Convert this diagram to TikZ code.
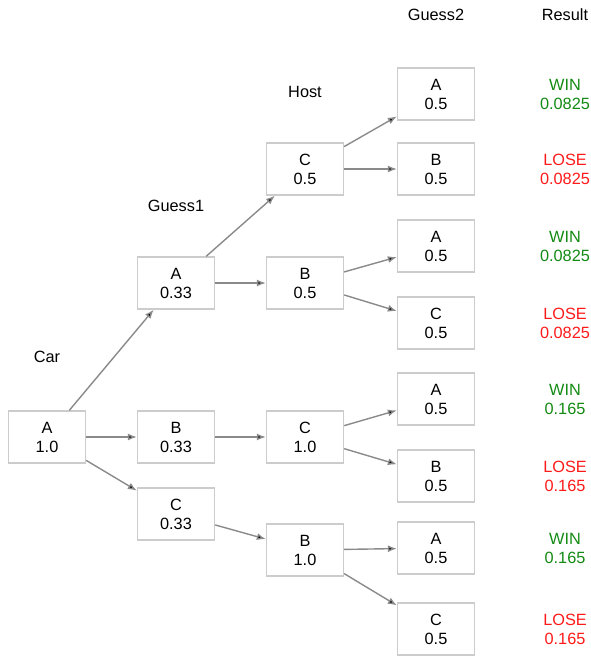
\documentclass[tikz,border=0pt]{standalone}
\usepackage{fontspec}
\setmainfont{Liberation Sans}
\usetikzlibrary{positioning, arrows.meta}

\definecolor{boxgray}{HTML}{CCCCCC}
\definecolor{edgegray}{HTML}{8A8A8A}
\definecolor{wingreen}{HTML}{138A13}
\definecolor{losered}{HTML}{FF1A1A}

\begin{document}
\begin{tikzpicture}[x=1pt, y=-1pt, on grid, node distance=76pt and 129pt,
        font=\fontsize{16.3}{19}\selectfont]
                \tikzset{
                    choice/.style={draw=boxgray, line width=1.3pt, fill=white, minimum width=77pt, minimum height=52pt, inner sep=0pt, align=center},
                    win/.style={text=wingreen, align=center, inner xsep=0pt},
                    lose/.style={text=losered, align=center, inner xsep=0pt},
                    header/.style={align=center}
                }
                \useasboundingbox (0,0) rectangle (590,658);

                % CAR
                \node[choice] (car) at (47,437) {A\\1.0};

                % GUESS1
                \node[choice] (g1a) [above right=154pt and 129pt of car] {A\\0.33};
                \node[choice] (g1b) [right=of car] {B\\0.33};
                \node[choice] (g1c) [below right=77pt and 129pt of car] {C\\0.33};

                % HOST
                \node[choice] (hc1) [above right=114pt and 129pt of g1a] {C\\0.5};
                \node[choice] (hb1) [right=of g1a] {B\\0.5};
                \node[choice] (hc2) [right=of g1b] {C\\1.0};
                \node[choice] (hb2) [below right=36pt and 129pt of g1c] {B\\1.0};

                % GUESS2
                \node[choice] (ga1) [above right=75pt and 131pt of hc1] {A\\0.5};
                \node[choice] (gb1) [right=131pt of hc1] {B\\0.5};
                \node[choice] (ga2) [above right=37pt and 131pt of hb1] {A\\0.5};
                \node[choice] (gc2) [below right=40pt and 131pt of hb1] {C\\0.5};
                \node[choice] (ga3) [above right=38pt and 131pt of hc2] {A\\0.5};
                \node[choice] (gb3) [below right=39pt and 131pt of hc2] {B\\0.5};
                \node[choice] (ga4) [above right=2pt and 131pt of hb2] {A\\0.5};
                \node[choice] (gc4) [below right=79pt and 131pt of hb2] {C\\0.5};

                % RESULTS
                \node[win] (r1) [right=129pt of ga1] {WIN\\0.0825};
                \node[lose] (r2) [right=129pt of gb1] {LOSE\\0.0825};
                \node[win] (r3) [right=129pt of ga2] {WIN\\0.0825};
                \node[lose] (r4) [right=129pt of gc2] {LOSE\\0.0825};
                \node[win] (r5) [right=129pt of ga3] {WIN\\0.165};
                \node[lose] (r6) [right=129pt of gb3] {LOSE\\0.165};
                \node[win] (r7) [right=129pt of ga4] {WIN\\0.165};
                \node[lose] (r8) [right=129pt of gc4] {LOSE\\0.165};

                % HEADERS
                \node[header] (lcar) [above=80pt of car] {Car};
                \node[header] (lguess1) [above=77pt of g1a] {Guess1};
                \node[header] (lhost) [above=77pt of hc1] {Host};
                \node[header] (lguess2) [above=79pt of ga1] {Guess2};
                \node[header] (lresult) [above=79pt of r1] {Result};

                % TRANSITIONS
                \path[-{Latex[length=9pt, width=7pt]}, draw=edgegray, line width=1.4pt]
                    (car) edge (g1a)
                    (car) edge (g1b)
                    (car) edge (g1c)
                    (g1a) edge (hc1)
                    (g1a) edge (hb1)
                    (g1b) edge (hc2)
                    (g1c) edge (hb2)
                    (hc1) edge (ga1)
                    (hc1) edge (gb1)
                    (hb1) edge (ga2)
                    (hb1) edge (gc2)
                    (hc2) edge (ga3)
                    (hc2) edge (gb3)
                    (hb2) edge (ga4)
                    (hb2) edge (gc4);

            \end{tikzpicture}
\end{document}
